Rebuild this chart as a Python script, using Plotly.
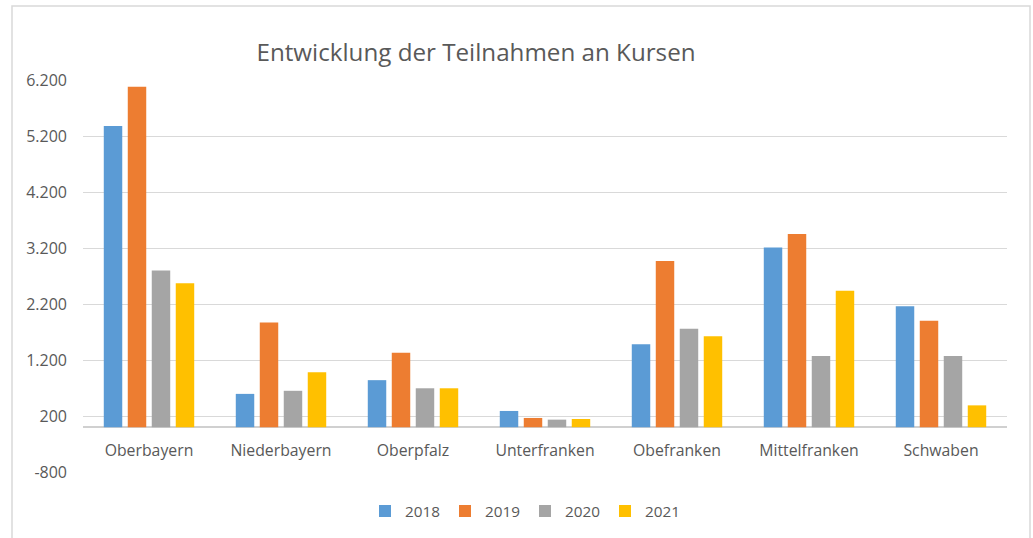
import plotly.graph_objects as go

categories = ["Oberbayern", "Niederbayern", "Oberpfalz", "Unterfranken",
              "Obefranken", "Mittelfranken", "Schwaben"]
years = ["2018", "2019", "2020", "2021"]
values_2018 = [5380, 595, 840, 290, 1480, 3210, 2160]
values_2019 = [6080, 1870, 1330, 165, 2970, 3450, 1900]
values_2020 = [2800, 650, 695, 135, 1760, 1270, 1270]
values_2021 = [2570, 980, 695, 147, 1625, 2435, 390]
series = [values_2018, values_2019, values_2020, values_2021]
colors = ["#5B9BD5", "#ED7D31", "#A5A5A5", "#FFC000"]

tick_vals = [-800, 200, 1200, 2200, 3200, 4200, 5200, 6200]
tick_text = ["-800", "200", "1.200", "2.200", "3.200", "4.200", "5.200", "6.200"]
y_min, y_max = -800, 6200

FONT = "Open Sans"
GRAY_TXT = "#595959"

W, H = 1033, 538
L, R, T, B = 83, 1007, 80, 471.7

fig = go.Figure()
for name, vals, col in zip(years, series, colors):
    fig.add_trace(go.Bar(x=categories, y=vals, name=name,
                         marker=dict(color=col, line=dict(width=0))))

zero_pos = (0 - y_min) / (y_max - y_min)

fig.update_layout(
    width=W, height=H,
    margin=dict(l=L, r=W - R, t=T, b=H - B, autoexpand=False),
    paper_bgcolor="white", plot_bgcolor="white",
    barmode="group", bargap=0.273, bargroupgap=0.23,
    font=dict(family=FONT, color=GRAY_TXT, size=15),
    title=dict(text="Entwicklung der Teilnahmen an Kursen",
               x=476 / W, xref="container", xanchor="center",
               y=1 - 53 / H, yref="container", yanchor="middle",
               font=dict(family=FONT, size=24.2, color=GRAY_TXT)),
    xaxis=dict(anchor="free", position=zero_pos, showgrid=False,
               showline=False, zeroline=False, ticks="",
               ticklabelstandoff=12,
               tickfont=dict(family=FONT, size=15.8, color=GRAY_TXT)),
    yaxis=dict(range=[y_min, y_max], tickvals=tick_vals, ticktext=tick_text,
               showgrid=True, gridcolor="#D9D9D9", gridwidth=1.3,
               zeroline=True, zerolinecolor="#D0D0D0", zerolinewidth=1.6,
               showline=False, ticks="", ticklabelstandoff=15,
               tickfont=dict(family=FONT, size=16, color=GRAY_TXT)),
    legend=dict(orientation="h", x=525 / W, xref="container", xanchor="center",
                y=1 - 511 / H, yref="container", yanchor="middle",
                font=dict(family=FONT, size=15.3, color=GRAY_TXT),
                itemwidth=30, traceorder="normal"),
    showlegend=True,
)

# chart border (outer frame)
pw, ph = R - L, B - T
def px_x(x):
    return (x - L) / pw
def px_y(y):
    return (B - y) / ph
fig.add_shape(type="rect", xref="paper", yref="paper",
              x0=px_x(12), x1=px_x(1030), y0=px_y(545), y1=px_y(6),
              line=dict(color="#D9D9D9", width=1.5), fillcolor="rgba(0,0,0,0)",
              layer="below")

fig.write_html("out.html", config={"displayModeBar": False},
               post_script="document.body.style.margin='0px';document.body.style.overflow='hidden';")
